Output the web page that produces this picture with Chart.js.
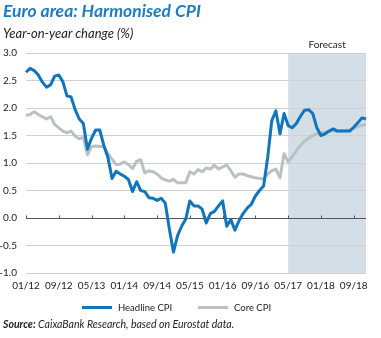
<!DOCTYPE html>
<html>
<head>
<meta charset="utf-8">
<script src="https://cdn.jsdelivr.net/npm/chart.js@4.4.1/dist/chart.umd.min.js"></script>
<style>
  html, body { margin: 0; padding: 0; background: #fff; }
  #wrap { position: relative; width: 381px; height: 338px; font-family: Lato, "Open Sans", sans-serif; }
  #grafico { position: absolute; left: 0; top: 0; }
  .titulo { position: absolute; left: 3px; top: 0px; font-size: 17.5px; font-weight: bold; font-style: italic; color: #1f7cc1; white-space: nowrap; }
  .subtitulo { position: absolute; left: 3px; top: 25px; font-size: 13px; font-style: italic; color: #222; white-space: nowrap; }
  .fuente { position: absolute; left: 3px; top: 318px; font-size: 10.5px; font-style: italic; color: #222; white-space: nowrap; }
  .leyenda { position: absolute; top: 302px; font-size: 9.5px; color: #222; white-space: nowrap; line-height: 12px; }
  .leyenda i { display: inline-block; width: 30px; height: 3px; vertical-align: middle; margin-right: 6px; position: relative; top: -1px; }
</style>
</head>
<body>
<div id="wrap">
  <canvas id="grafico" width="381" height="338"></canvas>
  <div class="titulo">Euro area: Harmonised CPI</div>
  <div class="subtitulo">Year-on-year change (%)</div>
  <div class="leyenda" id="ley0" style="left:82px"></div>
  <div class="leyenda" id="ley1" style="left:198px"></div>
  <div class="fuente"><b>Source:</b> CaixaBank Research, based on Eurostat data.</div>
</div>
<script>
// meses 01/12 ... 12/18
const anios = ["12", "13", "14", "15", "16", "17", "18"];
const numMes = ["01", "02", "03", "04", "05", "06", "07", "08", "09", "10", "11", "12"];
const meses = [];
anios.forEach((a) => numMes.forEach((m) => meses.push(m + "/" + a)));

const headline = [
  2.65, 2.72, 2.68, 2.60, 2.47, 2.38, 2.42, 2.58, 2.60, 2.48, 2.22, 2.20,
  1.97, 1.80, 1.72, 1.25, 1.45, 1.60, 1.60, 1.32, 1.10, 0.72, 0.85, 0.80,
  0.76, 0.70, 0.48, 0.66, 0.50, 0.48, 0.37, 0.36, 0.32, 0.36, 0.27, -0.20,
  -0.62, -0.32, -0.15, -0.02, 0.31, 0.22, 0.22, 0.16, -0.09, 0.08, 0.12, 0.22,
  0.31, -0.15, -0.03, -0.22, -0.05, 0.08, 0.18, 0.25, 0.40, 0.50, 0.58, 1.10,
  1.77, 1.95, 1.53, 1.90, 1.68, 1.64, 1.72, 1.85, 1.96, 1.97, 1.90, 1.64,
  1.50, 1.53, 1.58, 1.62, 1.58, 1.58, 1.58, 1.58, 1.65, 1.73, 1.82, 1.80
];

const core = [
  1.87, 1.88, 1.93, 1.88, 1.84, 1.80, 1.84, 1.70, 1.64, 1.58, 1.55, 1.58,
  1.49, 1.44, 1.47, 1.15, 1.30, 1.31, 1.30, 1.30, 1.17, 1.07, 0.97, 0.98,
  1.02, 0.97, 0.90, 1.03, 1.06, 0.82, 0.86, 0.84, 0.80, 0.73, 0.69, 0.67,
  0.70, 0.64, 0.64, 0.64, 0.84, 0.80, 0.88, 0.84, 0.91, 0.89, 0.96, 0.89,
  0.93, 0.96, 0.86, 0.74, 0.80, 0.80, 0.77, 0.75, 0.73, 0.72, 0.71, 0.80,
  0.86, 0.89, 0.73, 1.17, 1.02, 1.12, 1.22, 1.32, 1.40, 1.45, 1.50, 1.53,
  1.55, 1.56, 1.58, 1.58, 1.58, 1.58, 1.59, 1.60, 1.63, 1.66, 1.69, 1.70
];

const inicioPronostico = "05/17";
const cadaN = 8; // una etiqueta cada 8 meses

const pronostico = {
  id: "pronostico",
  beforeDraw(chart) {
    const { ctx, chartArea, scales: { x } } = chart;
    const x0 = x.getPixelForValue(meses.indexOf(inicioPronostico));
    const x1 = chartArea.right;
    ctx.save();
    ctx.fillStyle = "#d3dee6";
    ctx.fillRect(x0, chartArea.top, x1 - x0, chartArea.bottom - chartArea.top);
    ctx.fillStyle = "#222";
    ctx.font = "10px Lato";
    ctx.textAlign = "center";
    ctx.textBaseline = "bottom";
    ctx.fillText("Forecast", (x0 + x1) / 2, chartArea.top - 3);
    ctx.restore();
  },
  beforeDatasetsDraw(chart) {
    const { ctx, scales: { x, y } } = chart;
    const y0 = Math.round(y.getPixelForValue(0)) + 0.5;
    ctx.save();
    ctx.strokeStyle = "#555";
    ctx.lineWidth = 1;
    x.ticks.forEach((t) => {
      const px = Math.round(x.getPixelForValue(t.value)) + 0.5;
      ctx.beginPath();
      ctx.moveTo(px, y0);
      ctx.lineTo(px, y0 - 3);
      ctx.stroke();
    });
    ctx.restore();
  }
};

const ctx = document.getElementById("grafico").getContext("2d");
const chart = new Chart(ctx, {
  type: "line",
  data: {
    labels: meses,
    datasets: [
      {
        label: "Headline CPI",
        data: headline,
        borderColor: "#1075bb",
        borderWidth: 3,
        pointRadius: 0,
        tension: 0,
        borderJoinStyle: "round"
      },
      {
        label: "Core CPI",
        data: core,
        borderColor: "#b9c1c5",
        borderWidth: 3,
        pointRadius: 0,
        tension: 0,
        borderJoinStyle: "round"
      }
    ]
  },
  options: {
    responsive: false,
    animation: false,
    layout: { padding: { left: 0, top: 53, right: 15, bottom: 45 } },
    plugins: {
      tooltip: { enabled: false },
      legend: { display: false }
    },
    scales: {
      x: {
        grid: { display: false, drawTicks: false },
        border: { display: false },
        afterBuildTicks: (s) => { s.ticks = s.ticks.filter((t) => t.value % cadaN === 0); },
        afterFit: (s) => { s.height = 20; },
        ticks: {
          autoSkip: false,
          maxRotation: 0,
          padding: 7,
          color: "#222",
          font: { family: "Lato", size: 10 }
        }
      },
      y: {
        min: -1,
        max: 3,
        afterFit: (s) => { s.width = 26; },
        border: { display: false },
        grid: {
          drawTicks: false,
          color: (c) => (c.tick && c.tick.value === 0 ? "#555" : "#d0d0d0")
        },
        ticks: {
          stepSize: 0.5,
          padding: 9,
          color: "#222",
          font: { family: "Lato", size: 10 },
          callback: (v) => v.toFixed(1)
        }
      }
    }
  },
  plugins: [pronostico]
});

// leyenda sencilla en HTML con los colores de cada serie
chart.data.datasets.forEach((d, i) => {
  const el = document.getElementById("ley" + i);
  el.innerHTML = '<i style="background:' + d.borderColor + '"></i>' + d.label;
});
</script>
</body>
</html>
